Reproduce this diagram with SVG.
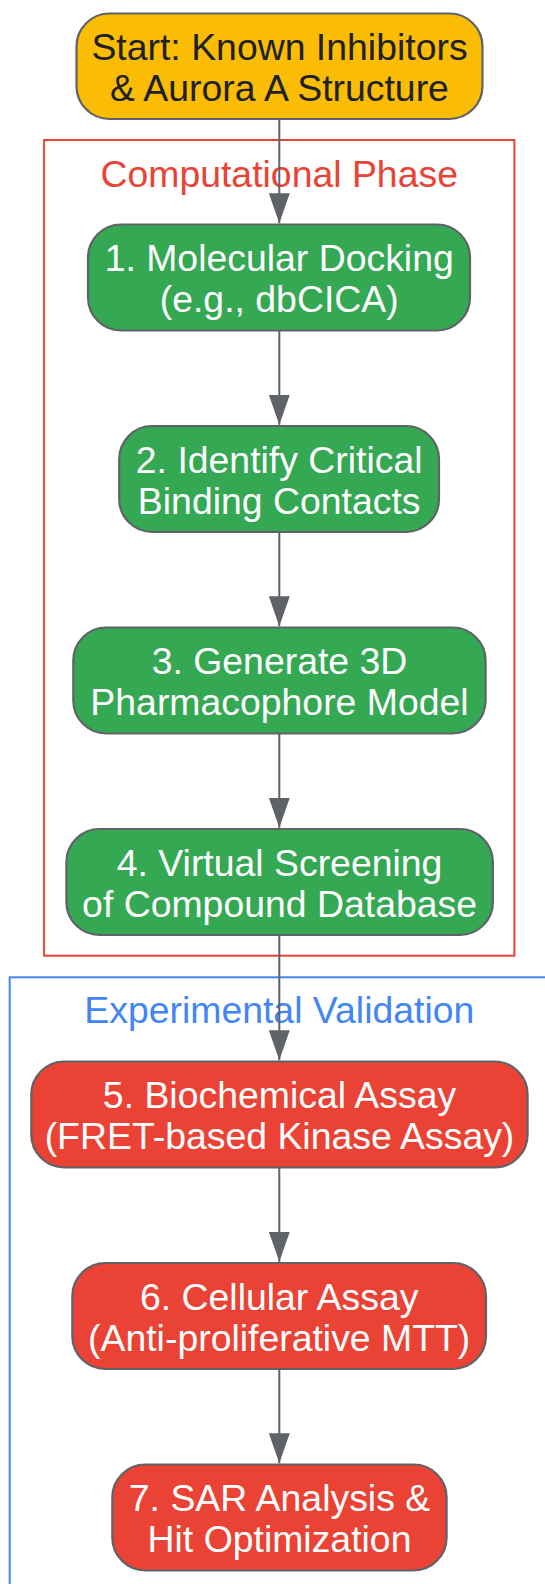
<svg xmlns="http://www.w3.org/2000/svg" width="545" height="1584" viewBox="0 0 545 1584">
<style>
.cluster{fill:none;stroke-width:2}
.ctitle{font-family:"Liberation Sans",Arial,sans-serif;font-size:37.4px;text-anchor:middle}
.node rect{stroke:#5f6368;stroke-width:2.2}
.node text{font-family:"Liberation Sans",Arial,sans-serif;font-size:37.4px;text-anchor:middle;fill:#ffffff}
.start rect{fill:#fbbc04}
.start text{fill:#202124}
.green rect{fill:#34a853}
.red rect{fill:#ea4335}
.edge{stroke:#5f6368;stroke-width:2;fill:none;marker-end:url(#arrow)}
</style>
<defs>
<marker id="arrow" markerUnits="userSpaceOnUse" viewBox="0 0 30 21" refX="30" refY="10.5" markerWidth="30" markerHeight="21" orient="auto">
<path d="M0,0 L30,10.5 L0,21 z" fill="#5f6368"/>
</marker>
</defs>
<rect width="545" height="1584" fill="#ffffff"/>
<g id="cluster-computational">
<rect class="cluster" x="44.1" y="140" width="470.3" height="815.7" stroke="#ea4335"/>
<text class="ctitle" x="279.2" y="186.7" fill="#ea4335">Computational Phase</text>
</g>
<g id="cluster-experimental">
<rect class="cluster" x="9.7" y="977.3" width="560" height="640" stroke="#4285f4"/>
<text class="ctitle" x="279.3" y="1023.3" fill="#4285f4">Experimental Validation</text>
</g>
<g id="connectors">
<path class="edge" d="M279.3,119.5 L279.3,223.3"/>
<path class="edge" d="M279.3,330.5 L279.3,424.8"/>
<path class="edge" d="M279.3,532 L279.3,626.3"/>
<path class="edge" d="M279.3,733.5 L279.3,827.8"/>
<path class="edge" d="M279.3,935 L279.3,1060.3"/>
<path class="edge" d="M279.3,1167.5 L279.3,1261.8"/>
<path class="edge" d="M279.3,1369 L279.3,1463.3"/>
</g>
<g id="start" class="node start">
<rect x="76.5" y="13.5" width="406" height="105.5" rx="33" ry="33"/>
<text x="279.5" y="60">Start: Known Inhibitors</text>
<text x="279.5" y="100.8">&amp; Aurora A Structure</text>
</g>
<g id="step1" class="node green">
<rect x="88" y="224.5" width="382" height="106" rx="33" ry="33"/>
<text x="279.2" y="271.2">1. Molecular Docking</text>
<text x="279.2" y="312.2">(e.g., dbCICA)</text>
</g>
<g id="step2" class="node green">
<rect x="119.2" y="426" width="319.8" height="106" rx="33" ry="33"/>
<text x="279.2" y="472.7">2. Identify Critical</text>
<text x="279.2" y="513.8">Binding Contacts</text>
</g>
<g id="step3" class="node green">
<rect x="73.3" y="627.5" width="412.3" height="106" rx="33" ry="33"/>
<text x="279.5" y="674.2">3. Generate 3D</text>
<text x="279.5" y="715.3">Pharmacophore Model</text>
</g>
<g id="step4" class="node green">
<rect x="66.4" y="829" width="426.5" height="106" rx="33" ry="33"/>
<text x="279.6" y="875.7">4. Virtual Screening</text>
<text x="279.6" y="916.8">of Compound Database</text>
</g>
<g id="step5" class="node red">
<rect x="31.3" y="1061.5" width="496.3" height="106" rx="33" ry="33"/>
<text x="279.5" y="1108.2">5. Biochemical Assay</text>
<text x="279.5" y="1149.3">(FRET-based Kinase Assay)</text>
</g>
<g id="step6" class="node red">
<rect x="72.3" y="1263" width="413.7" height="106" rx="33" ry="33"/>
<text x="279.2" y="1309.7">6. Cellular Assay</text>
<text x="279.2" y="1350.8">(Anti-proliferative MTT)</text>
</g>
<g id="step7" class="node red">
<rect x="112.3" y="1464.5" width="334.3" height="106" rx="33" ry="33"/>
<text x="279.5" y="1511.2">7. SAR Analysis &amp;</text>
<text x="279.5" y="1552.3">Hit Optimization</text>
</g>
</svg>
